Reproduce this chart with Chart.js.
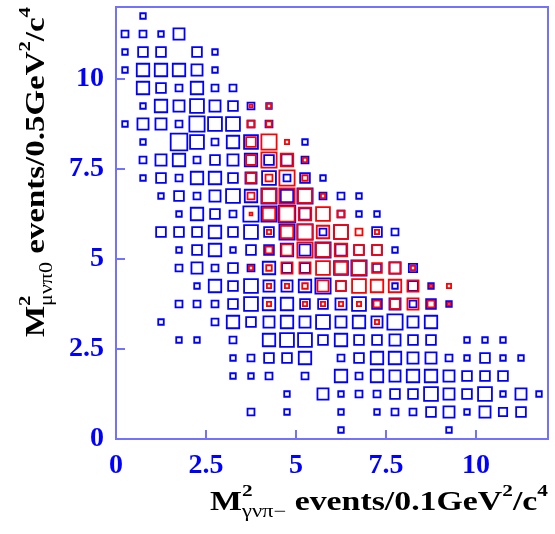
<!DOCTYPE html>
<html>
<head>
<meta charset="utf-8">
<script src="https://cdn.jsdelivr.net/npm/chart.js@4"></script>
<style>
  html, body { margin: 0; padding: 0; background: #fff; }
  canvas { display: block; }
</style>
</head>
<body>
<canvas id="boxChart" width="555" height="534"></canvas>
<script>
// bin centres (0.5 wide bins from 0 to 12)
const xCenters = [0.25, 0.75, 1.25, 1.75, 2.25, 2.75, 3.25, 3.75, 4.25, 4.75, 5.25, 5.75,
                  6.25, 6.75, 7.25, 7.75, 8.25, 8.75, 9.25, 9.75, 10.25, 10.75, 11.25, 11.75];
// rows of the tables below, from top to bottom
const yCenters = [11.75, 11.25, 10.75, 10.25, 9.75, 9.25, 8.75, 8.25, 7.75, 7.25, 6.75, 6.25,
                  5.75, 5.25, 4.75, 4.25, 3.75, 3.25, 2.75, 2.25, 1.75, 1.25, 0.75, 0.25];
const binWidth = 0.5;
const maxCount = 13;

const xTickValues = [0, 2.5, 5, 7.5, 10];
const yTickValues = [0, 2.5, 5, 7.5, 10];

// blue histogram contents
const blueCounts = [
  [0,4,0,0,0,0,0,0,0,0,0,0,0,0,0,0,0,0,0,0,0,0,0,0],
  [5,5,4,8,0,0,0,0,0,0,0,0,0,0,0,0,0,0,0,0,0,0,0,0],
  [4,7,7,0,7,4,0,0,0,0,0,0,0,0,0,0,0,0,0,0,0,0,0,0],
  [4,9,9,9,8,4,0,0,0,0,0,0,0,0,0,0,0,0,0,0,0,0,0,0],
  [0,9,7,5,9,5,5,0,0,0,0,0,0,0,0,0,0,0,0,0,0,0,0,0],
  [0,4,9,8,10,8,7,5,4,0,0,0,0,0,0,0,0,0,0,0,0,0,0,0],
  [4,8,8,5,11,10,10,5,5,0,0,0,0,0,0,0,0,0,0,0,0,0,0,0],
  [0,4,0,12,10,5,9,10,0,0,4,0,0,0,0,0,0,0,0,0,0,0,0,0],
  [0,5,8,9,5,7,8,9,7,8,5,0,0,0,0,0,0,0,0,0,0,0,0,0],
  [0,4,7,5,9,9,7,8,10,5,7,4,0,0,0,0,0,0,0,0,0,0,0,0],
  [0,0,4,7,5,8,10,9,11,9,11,5,5,4,0,0,0,0,0,0,0,0,0,0],
  [0,0,0,4,9,7,5,11,11,12,8,0,5,4,4,0,0,0,0,0,0,0,0,0],
  [0,0,7,7,7,9,7,10,7,11,11,5,10,0,7,5,0,0,0,0,0,0,0,0],
  [0,0,0,4,7,9,4,7,7,9,8,11,8,7,7,4,0,0,0,0,0,0,0,0],
  [0,0,0,5,8,5,7,5,9,7,7,0,10,11,6,8,6,0,0,0,0,0,0,0],
  [0,0,0,0,4,9,7,10,8,8,9,11,7,0,0,4,7,4,0,0,0,0,0,0],
  [0,0,0,5,5,5,7,10,9,9,7,7,8,10,7,8,5,7,4,0,0,0,0,0],
  [0,0,4,0,0,5,9,7,8,9,8,10,8,9,8,11,8,9,0,0,0,0,0,0],
  [0,0,0,4,4,0,5,0,9,10,10,7,9,7,7,8,7,7,0,4,4,4,0,0],
  [0,0,0,0,0,0,4,5,7,7,9,0,5,7,9,9,8,8,5,4,7,4,4,0],
  [0,0,0,0,0,0,4,4,5,0,5,0,9,5,9,8,9,9,8,7,7,7,0,0],
  [0,0,0,0,0,0,0,0,0,4,0,8,4,5,5,7,7,10,8,7,10,4,8,4],
  [0,0,0,0,0,0,0,5,0,4,0,0,4,0,4,5,5,7,8,4,8,6,7,0],
  [0,0,0,0,0,0,0,0,0,0,0,0,4,0,0,0,0,0,4,0,0,0,0,0]
];

// red histogram contents
const redCounts = [
  [0,0,0,0,0,0,0,0,0,0,0,0,0,0,0,0,0,0,0,0,0,0,0,0],
  [0,0,0,0,0,0,0,0,0,0,0,0,0,0,0,0,0,0,0,0,0,0,0,0],
  [0,0,0,0,0,0,0,0,0,0,0,0,0,0,0,0,0,0,0,0,0,0,0,0],
  [0,0,0,0,0,0,0,0,0,0,0,0,0,0,0,0,0,0,0,0,0,0,0,0],
  [0,0,0,0,0,0,0,0,0,0,0,0,0,0,0,0,0,0,0,0,0,0,0,0],
  [0,0,0,0,0,0,0,2,3,0,0,0,0,0,0,0,0,0,0,0,0,0,0,0],
  [0,0,0,0,0,0,0,5,4,0,0,0,0,0,0,0,0,0,0,0,0,0,0,0],
  [0,0,0,0,0,0,0,7,11,3,0,0,0,0,0,0,0,0,0,0,0,0,0,0],
  [0,0,0,0,0,0,0,7,11,9,3,0,0,0,0,0,0,0,0,0,0,0,0,0],
  [0,0,0,0,0,0,0,7,5,11,4,0,0,0,0,0,0,0,0,0,0,0,0,0],
  [0,0,0,0,0,0,0,5,10,11,10,3,0,0,0,0,0,0,0,0,0,0,0,0],
  [0,0,0,0,0,0,0,2,9,11,9,10,5,0,0,0,0,0,0,0,0,0,0,0],
  [0,0,0,0,0,0,0,0,3,9,11,9,10,5,3,0,0,0,0,0,0,0,0,0],
  [0,0,0,0,0,0,0,0,5,8,11,10,9,7,7,0,0,0,0,0,0,0,0,0],
  [0,0,0,0,0,0,0,3,4,8,8,10,9,10,7,8,3,0,0,0,0,0,0,0],
  [0,0,0,0,0,0,0,0,3,3,4,8,7,10,9,9,8,2,3,0,0,0,0,0],
  [0,0,0,0,0,0,0,0,3,0,3,3,3,3,5,7,8,5,2,0,0,0,0,0],
  [0,0,0,0,0,0,0,0,0,0,0,0,0,0,3,0,0,0,0,0,0,0,0,0],
  [0,0,0,0,0,0,0,0,0,0,0,0,0,0,0,0,0,0,0,0,0,0,0,0],
  [0,0,0,0,0,0,0,0,0,0,0,0,0,0,0,0,0,0,0,0,0,0,0,0],
  [0,0,0,0,0,0,0,0,0,0,0,0,0,0,0,0,0,0,0,0,0,0,0,0],
  [0,0,0,0,0,0,0,0,0,0,0,0,0,0,0,0,0,0,0,0,0,0,0,0],
  [0,0,0,0,0,0,0,0,0,0,0,0,0,0,0,0,0,0,0,0,0,0,0,0],
  [0,0,0,0,0,0,0,0,0,0,0,0,0,0,0,0,0,0,0,0,0,0,0,0]
];

const frameColor = '#7272ff';
const serif = '"Liberation Serif", "Times New Roman", serif';

// turn a table into bin points
const toPoints = (table) => {
    const pts = [];
    table.forEach((row, r) => {
        row.forEach((n, c) => {
            if (n > 0) pts.push({ x: xCenters[c], y: yCenters[r], n: n });
        });
    });
    return pts;
};

// box side proportional to bin content, like ROOT "box"
const boxRadius = (ctx) => {
    if (!ctx.raw) return 0;
    const s = ctx.chart.scales.x;
    const binPx = Math.abs(s.getPixelForValue(binWidth) - s.getPixelForValue(0));
    const side = ctx.raw.n / maxCount * binPx;
    return side / Math.SQRT2;
};

// text with sub/superscripts, stretched to a given length
function drawRichText(ctx, parts, x, y, angle, length) {
    ctx.save();
    let total = 0;
    parts.forEach(p => {
        ctx.font = p.font;
        p.w = ctx.measureText(p.text).width;
        if (!p.noAdvance) total += p.w;
    });
    ctx.translate(x, y);
    ctx.rotate(angle);
    ctx.scale(length / total, 1);
    ctx.fillStyle = '#000';
    ctx.textBaseline = 'alphabetic';
    ctx.textAlign = 'left';
    let cx = 0;
    parts.forEach(p => {
        ctx.font = p.font;
        ctx.fillText(p.text, cx, p.dy || 0);
        if (!p.noAdvance) cx += p.w;
    });
    ctx.restore();
}

const mainFont = `bold 27px ${serif}`;
const supFont = `bold 17px ${serif}`;
const subFont = `18px ${serif}`;

const xTitleParts = [
    { text: 'M', font: mainFont },
    { text: '2', font: supFont, dy: -14, noAdvance: true },
    { text: 'γνπ−', font: subFont, dy: 7 },
    { text: ' events/0.1GeV', font: mainFont },
    { text: '2', font: supFont, dy: -14 },
    { text: '/c', font: mainFont },
    { text: '4', font: supFont, dy: -14 }
];
const yTitleParts = [
    { text: 'M', font: mainFont },
    { text: '2', font: supFont, dy: -14, noAdvance: true },
    { text: 'μνπ0', font: subFont, dy: 8 },
    { text: ' events/0.5GeV', font: mainFont },
    { text: '2', font: supFont, dy: -14 },
    { text: '/c', font: mainFont },
    { text: '4', font: supFont, dy: -14 }
];

// frame, inner tick marks and axis titles
const framePlugin = {
    id: 'framePlugin',
    afterDraw(chart) {
        const { ctx, chartArea: a, scales } = chart;
        ctx.save();
        ctx.strokeStyle = frameColor;
        ctx.lineWidth = 2;
        ctx.strokeRect(a.left, a.top, a.right - a.left, a.bottom - a.top);
        ctx.beginPath();
        xTickValues.forEach(v => {
            const px = scales.x.getPixelForValue(v);
            ctx.moveTo(px, a.bottom);
            ctx.lineTo(px, a.bottom - 9);
        });
        yTickValues.forEach(v => {
            const py = scales.y.getPixelForValue(v);
            ctx.moveTo(a.left, py);
            ctx.lineTo(a.left + 9, py);
        });
        ctx.stroke();
        ctx.restore();

        drawRichText(ctx, xTitleParts, 210, 510, 0, 338);
        drawRichText(ctx, yTitleParts, 44, 337, -Math.PI / 2, 330);
    }
};

const tickFont = { family: serif, size: 28, weight: 'bold' };

new Chart(document.getElementById('boxChart'), {
    type: 'scatter',
    data: {
        datasets: [
            {
                label: 'red',
                data: toPoints(redCounts),
                borderColor: '#ff0000',
                backgroundColor: 'rgba(0,0,0,0)',
                borderWidth: 1.8,
                pointStyle: 'rect',
                pointRadius: boxRadius,
                pointHoverRadius: boxRadius
            },
            {
                label: 'blue',
                data: toPoints(blueCounts),
                borderColor: '#0000ff',
                backgroundColor: 'rgba(0,0,0,0)',
                borderWidth: 1.8,
                pointStyle: 'rect',
                pointRadius: boxRadius,
                pointHoverRadius: boxRadius
            }
        ]
    },
    options: {
        responsive: false,
        devicePixelRatio: 1,
        animation: false,
        layout: {
            padding: { top: 7, right: 7, left: 0, bottom: 0 }
        },
        plugins: {
            legend: { display: false },
            tooltip: { enabled: false }
        },
        scales: {
            x: {
                type: 'linear',
                min: 0,
                max: 12,
                afterBuildTicks: (scale) => {
                    scale.ticks = xTickValues.map(v => ({ value: v }));
                },
                afterFit: (scale) => {
                    scale.height = 95;
                    scale.paddingLeft = 0;
                    scale.paddingRight = 0;
                },
                grid: { display: false, drawTicks: false },
                border: { display: false },
                ticks: {
                    color: '#0000ff',
                    font: tickFont,
                    padding: 10,
                    maxRotation: 0,
                    autoSkip: false
                }
            },
            y: {
                type: 'linear',
                min: 0,
                max: 12,
                afterBuildTicks: (scale) => {
                    scale.ticks = yTickValues.map(v => ({ value: v }));
                },
                afterFit: (scale) => {
                    scale.width = 116;
                    scale.paddingTop = 0;
                    scale.paddingBottom = 0;
                },
                grid: { display: false, drawTicks: false },
                border: { display: false },
                ticks: {
                    color: '#0000ff',
                    font: tickFont,
                    padding: 12,
                    autoSkip: false
                }
            }
        }
    },
    plugins: [framePlugin]
});
</script>
</body>
</html>
